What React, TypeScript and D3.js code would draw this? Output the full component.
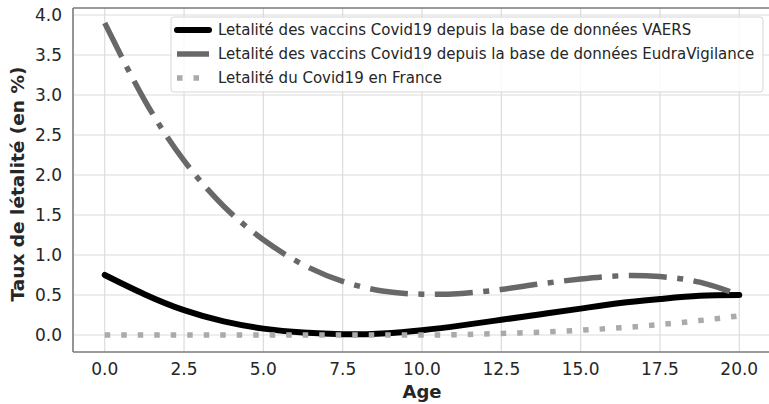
import React from "react";
import * as d3 from "d3";

const AGES = [0, 1.25, 2.5, 3.75, 5, 6.25, 7.5, 8.75, 10, 11.25, 12.5, 13.75, 15, 16.25, 17.5, 18.75, 20];
const VAERS = [0.75, 0.51, 0.31, 0.17, 0.08, 0.03, 0.01, 0.02, 0.06, 0.12, 0.19, 0.26, 0.33, 0.4, 0.45, 0.49, 0.5];
const EUDRA = [3.9, 2.94, 2.18, 1.61, 1.19, 0.88, 0.67, 0.55, 0.51, 0.52, 0.57, 0.64, 0.7, 0.74, 0.73, 0.66, 0.5];
const FRANCE = [0, 0, 0, 0, 0, 0, 0, 0, 0, 0.005, 0.02, 0.035, 0.06, 0.09, 0.13, 0.18, 0.24];

const X_TICKS = [0, 2.5, 5, 7.5, 10, 12.5, 15, 17.5, 20];
const Y_TICKS = [0, 0.5, 1, 1.5, 2, 2.5, 3, 3.5, 4];

const SERIES_LABELS = [
  "Letalité des vaccins Covid19 depuis la base de données VAERS",
  "Letalité des vaccins Covid19 depuis la base de données EudraVigilance",
  "Letalité du Covid19 en France",
];

const W = 769;
const H = 404;
const LEFT = 73;
const RIGHT = 771;
const TOP = 8;
const BOTTOM = 352;
const FONT = "'DejaVu Sans', sans-serif";
const TEXT = "#262626";

const STYLES = [
  { stroke: "#000000", width: 6, dash: "", cap: "round" },
  { stroke: "#686868", width: 5.5, dash: "38,10.5,6,10.5", cap: "butt" },
  { stroke: "#aaaaaa", width: 5.5, dash: "5.5,11", cap: "butt" },
];

export default function App() {
  const x = d3.scaleLinear().domain([-1, 21]).range([LEFT, RIGHT]);
  const y = d3.scaleLinear().domain([-0.2125, 4.0875]).range([BOTTOM, TOP]);
  const makeLine = (curve: any) =>
    d3
      .line<number>()
      .x((_, i) => x(AGES[i]))
      .y((d) => y(d))
      .curve(curve);

  const series = [VAERS, EUDRA, FRANCE];
  const curves = [d3.curveNatural, d3.curveNatural, d3.curveMonotoneX];

  const legendRows = [30, 54, 78];

  return (
    <svg
      width={W}
      height={H}
      style={{ position: "absolute", left: 0, top: 0, background: "#fff" }}
      fontFamily={FONT}
    >
      <defs>
        <clipPath id="plot">
          <rect x={LEFT} y={TOP} width={RIGHT - LEFT} height={BOTTOM - TOP} />
        </clipPath>
      </defs>
      <rect x={0} y={0} width={W} height={H} fill="#fff" />
      {X_TICKS.map((t) => (
        <line key={"gx" + t} x1={x(t)} x2={x(t)} y1={TOP} y2={BOTTOM} stroke="#dcdcdc" strokeWidth={1.2} />
      ))}
      {Y_TICKS.map((t) => (
        <line key={"gy" + t} x1={LEFT} x2={RIGHT} y1={y(t)} y2={y(t)} stroke="#dcdcdc" strokeWidth={1.2} />
      ))}
      <line x1={LEFT} x2={LEFT} y1={TOP} y2={BOTTOM} stroke="#7a7a7a" strokeWidth={1.6} />
      <line x1={LEFT} x2={RIGHT} y1={BOTTOM} y2={BOTTOM} stroke="#7a7a7a" strokeWidth={1.6} />
      <line x1={LEFT} x2={RIGHT} y1={TOP} y2={TOP} stroke="#7a7a7a" strokeWidth={1.6} />
      <g clipPath="url(#plot)">
        {series.map((s, i) => (
          <path
            key={"s" + i}
            d={makeLine(curves[i])(s) || ""}
            fill="none"
            stroke={STYLES[i].stroke}
            strokeWidth={STYLES[i].width}
            strokeDasharray={STYLES[i].dash || undefined}
            strokeLinecap={STYLES[i].cap as any}
            strokeLinejoin="round"
          />
        ))}
      </g>
      {X_TICKS.map((t) => (
        <text key={"tx" + t} x={x(t)} y={369} textAnchor="middle" dominantBaseline="central" fontSize={17} fill={TEXT}>
          {t.toFixed(1)}
        </text>
      ))}
      {Y_TICKS.map((t) => (
        <text key={"ty" + t} x={62} y={y(t)} textAnchor="end" dominantBaseline="central" fontSize={17} fill={TEXT}>
          {t.toFixed(1)}
        </text>
      ))}
      <text x={(LEFT + RIGHT) / 2} y={398} textAnchor="middle" fontSize={18} fontWeight="bold" fill={TEXT}>
        Age
      </text>
      <text
        transform={`translate(24, ${(TOP + BOTTOM) / 2 + 4}) rotate(-90)`}
        textAnchor="middle"
        fontSize={18.5}
        fontWeight="bold"
        fill={TEXT}
      >
        Taux de létalité (en %)
      </text>
      <rect x={171} y={17} width={592} height={75} rx={3} ry={3} fill="#fff" fillOpacity={0.8} stroke="#d6d6d6" strokeWidth={1} />
      {SERIES_LABELS.map((lab, i) => (
        <g key={"lg" + i}>
          <line
            x1={177}
            x2={209}
            y1={legendRows[i]}
            y2={legendRows[i]}
            stroke={STYLES[i].stroke}
            strokeWidth={STYLES[i].width}
            strokeDasharray={STYLES[i].dash || undefined}
            strokeLinecap={STYLES[i].cap as any}
          />
          <text x={218} y={legendRows[i]} dominantBaseline="central" fontSize={15} fill={TEXT}>
            {lab}
          </text>
        </g>
      ))}
    </svg>
  );
}
